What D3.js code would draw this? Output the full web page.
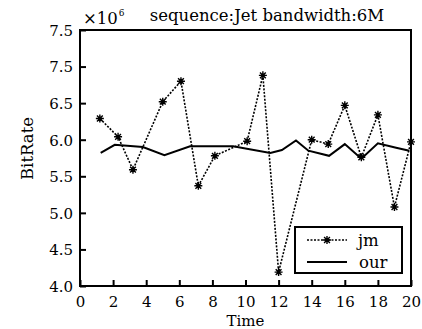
<!doctype html>
<html>
<head>
<meta charset="utf-8">
<script src="https://cdn.jsdelivr.net/npm/d3@7"></script>
<style>
body { margin: 0; background: #fff; }
text { font-family: "DejaVu Serif", serif; fill: #000; }
</style>
</head>
<body>
<div id="chart"></div>
<script>
// jm series (asterisk, dotted)
var jmTime = [1.2, 2.3, 3.2, 5, 6.1, 7.15, 8.15, 10.1, 11.05, 12, 14, 15, 16, 17, 18, 19, 20];
var jmRate = [6.29, 6.04, 5.59, 6.52, 6.80, 5.37, 5.78, 5.98, 6.88, 4.19, 6.00, 5.94, 6.47, 5.76, 6.34, 5.08, 5.97];

// our series (solid)
var ourTime = [1.25, 2.1, 3.8, 5.1, 6.65, 9.25, 11.5, 12.2, 13.05, 13.8, 15.05, 16, 17, 18, 19.1, 19.9];
var ourRate = [5.82, 5.93, 5.90, 5.79, 5.91, 5.91, 5.82, 5.86, 5.99, 5.85, 5.78, 5.94, 5.74, 5.95, 5.89, 5.85];

var xTicks = [0, 2, 4, 6, 8, 10, 12, 14, 16, 18, 20];
var yTicks = [4.0, 4.5, 5.0, 5.5, 6.0, 6.5, 7.0, 7.5];
var yTickLabels = ["4.0", "4.5", "5.0", "5.5", "6.0", "6.5", "7.5", "7.5"];

var margin = {top: 30, right: 11, bottom: 43, left: 80},
    width = 422 - margin.left - margin.right,
    height = 329 - margin.top - margin.bottom;

var svg = d3.select("#chart").append("svg")
    .attr("width", 422)
    .attr("height", 329)
  .append("g")
    .attr("transform", "translate(" + margin.left + "," + margin.top + ")");

var x = d3.scaleLinear().domain([0, 20]).range([0, width]);
var y = d3.scaleLinear().domain([4, 7.5]).range([height, 0]);

// x axis, ticks pointing in
var xAxis = svg.append("g")
    .attr("transform", "translate(0," + height + ")")
    .call(d3.axisBottom(x).tickValues(xTicks).tickSizeInner(-6).tickSizeOuter(0).tickPadding(10)
      .tickFormat(d3.format("d")));

// y axis
var yAxis = svg.append("g")
    .call(d3.axisLeft(y).tickValues(yTicks).tickSizeInner(-6).tickSizeOuter(0).tickPadding(7)
      .tickFormat(function(d, i) { return yTickLabels[i]; }));

[xAxis, yAxis].forEach(function(a) {
  a.select(".domain").remove();
  a.selectAll(".tick line").attr("stroke", "#000").attr("stroke-width", 2);
  a.selectAll(".tick text").style("font-size", "15px").style("font-family", "DejaVu Serif, serif");
});
yAxis.selectAll(".tick text").attr("dy", "0.36em");

// frame
svg.append("rect")
    .attr("width", width)
    .attr("height", height)
    .attr("fill", "none")
    .attr("stroke", "#000")
    .attr("stroke-width", 2);

// lines
var jmData = jmTime.map(function(t, i) { return {t: t, v: jmRate[i]}; });
var ourData = ourTime.map(function(t, i) { return {t: t, v: ourRate[i]}; });

var line = d3.line()
    .x(function(d) { return x(d.t); })
    .y(function(d) { return y(d.v); });

svg.append("path")
    .datum(ourData)
    .attr("fill", "none")
    .attr("stroke", "#000")
    .attr("stroke-width", 2)
    .attr("d", line);

svg.append("path")
    .datum(jmData)
    .attr("fill", "none")
    .attr("stroke", "#000")
    .attr("stroke-width", 1.6)
    .attr("stroke-dasharray", "2,1.5")
    .attr("d", line);

var r = 4, a = 2.9;
var star = "M" + (-r) + ",0L" + r + ",0M0," + (-r) + "L0," + r +
           "M" + (-a) + "," + (-a) + "L" + a + "," + a + "M" + (-a) + "," + a + "L" + a + "," + (-a);

svg.selectAll(".star")
    .data(jmData)
  .enter().append("path")
    .attr("class", "star")
    .attr("transform", function(d) { return "translate(" + x(d.t) + "," + y(d.v) + ")"; })
    .attr("d", star)
    .attr("stroke", "#000")
    .attr("stroke-width", 1.4)
    .attr("fill", "none");

// title and exponent
svg.append("text")
    .attr("x", 187)
    .attr("y", -9)
    .attr("text-anchor", "middle")
    .style("font-size", "16.5px")
    .text("sequence:Jet bandwidth:6M");

var exp = svg.append("text")
    .attr("x", 3)
    .attr("y", -6)
    .style("font-size", "16.5px");
exp.append("tspan").text("\u00d710");
exp.append("tspan").attr("dy", -8).attr("dx", 1).style("font-size", "9px").text("6");

// axis labels
svg.append("text")
    .attr("x", width / 2)
    .attr("y", height + 40)
    .attr("text-anchor", "middle")
    .style("font-size", "15px")
    .text("Time");

svg.append("text")
    .attr("transform", "rotate(-90)")
    .attr("x", -(y(5.88)))
    .attr("y", -47)
    .attr("text-anchor", "middle")
    .style("font-size", "16.5px")
    .text("BitRate");

// legend
var legend = svg.append("g").attr("transform", "translate(215,197)");
legend.append("rect")
    .attr("width", 107)
    .attr("height", 46)
    .attr("fill", "#fff")
    .attr("stroke", "#000")
    .attr("stroke-width", 2);
legend.append("line")
    .attr("x1", 12).attr("x2", 52).attr("y1", 13).attr("y2", 13)
    .attr("stroke", "#000").attr("stroke-width", 1.6).attr("stroke-dasharray", "2,1.5");
legend.append("path")
    .attr("transform", "translate(32,13)")
    .attr("d", star)
    .attr("stroke", "#000").attr("stroke-width", 1.4);
legend.append("line")
    .attr("x1", 12).attr("x2", 52).attr("y1", 35).attr("y2", 35)
    .attr("stroke", "#000").attr("stroke-width", 2);
legend.append("text").attr("x", 63).attr("y", 19).style("font-size", "16.5px").text("jm");
legend.append("text").attr("x", 64).attr("y", 41).style("font-size", "16.5px").text("our");
</script>
</body>
</html>
